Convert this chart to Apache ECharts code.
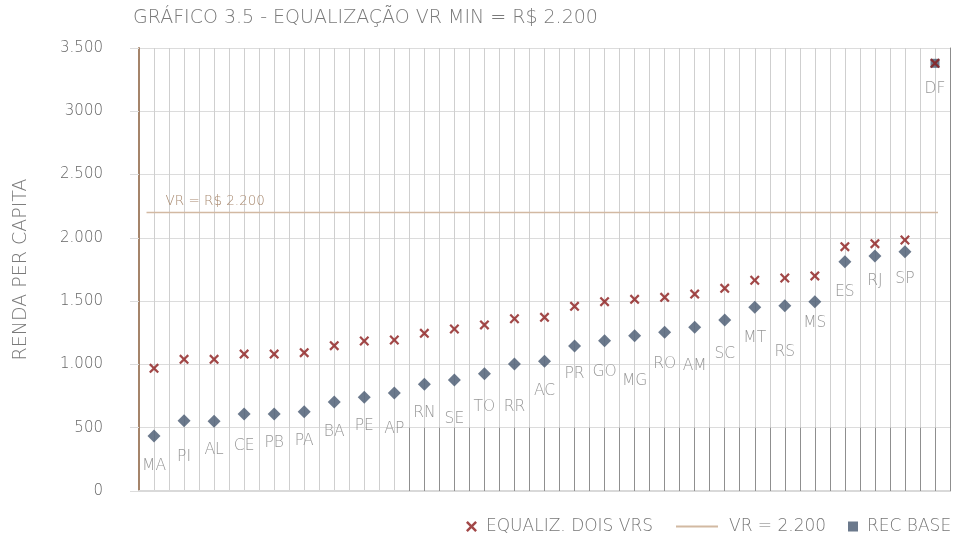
<!DOCTYPE html>
<html>
<head>
<meta charset="utf-8">
<script src="https://cdn.jsdelivr.net/npm/echarts@6/dist/echarts.min.js"></script>
<style>
  html, body { margin: 0; padding: 0; background: #fff; }
  #chart { width: 958px; height: 536px; }
</style>
</head>
<body>
<div id="chart"></div>
<script>
const states = ['MA', 'PI', 'AL', 'CE', 'PB', 'PA', 'BA', 'PE', 'AP', 'RN', 'SE', 'TO', 'RR', 'AC',
  'PR', 'GO', 'MG', 'RO', 'AM', 'SC', 'MT', 'RS', 'MS', 'ES', 'RJ', 'SP', 'DF'];

const recBase = [434, 555, 551, 608, 608, 627, 703, 740, 774, 843, 877, 927, 1003, 1025,
  1146, 1188, 1227, 1254, 1293, 1351, 1451, 1464, 1496, 1812, 1857, 1891, 3379];

const equalizDoisVrs = [969, 1040, 1040, 1082, 1082, 1093, 1148, 1185, 1193, 1246, 1280, 1312, 1361, 1372,
  1459, 1496, 1514, 1530, 1556, 1601, 1665, 1683, 1699, 1930, 1954, 1983, 3379];

const vrValue = 2200;

const yTickLabels = { 0: '0', 500: '500', 1000: '1.000', 1500: '1.500', 2000: '2.000',
  2500: '2.500', 3000: '3000', 3500: '3.500' };

// how far (px) each state label sits under its marker, as in the original
const labelDrop = [30, 37, 29, 32, 29, 30, 30, 29, 36, 29, 39, 34, 43, 30,
  29, 32, 46, 32, 39, 34, 31, 47, 22, 31, 26, 28, 28];

const FONT = 'DejaVu Sans';
const textGray = '#777777';
const crossPath = 'path://M0,1.6L1.6,0L5,3.4L8.4,0L10,1.6L6.6,5L10,8.4L8.4,10L5,6.6L1.6,10L0,8.4L3.4,5Z';

const chart = echarts.init(document.getElementById('chart'));

// darker vertical lines below 500 on the right half
const darkLines = [];
for (let i = 8; i < states.length; i++) {
  [i + 1.5, i + 1].forEach(x => {
    if (x > 9) darkLines.push([{ coord: [x, 0] }, { coord: [x, 500] }]);
  });
}

chart.setOption({
  animation: false,
  textStyle: { fontFamily: FONT, fontWeight: 300 },
  title: {
    text: 'GRÁFICO 3.5 - EQUALIZAÇÃO VR MIN = R$ 2.200',
    left: 133,
    top: 9,
    padding: 0,
    textStyle: { fontFamily: FONT, fontWeight: 300, fontSize: 19, color: '#7a7a7a' },
  },
  legend: [
    {
      data: [{ name: 'EQUALIZ. DOIS VRS', icon: crossPath }],
      left: 461,
      top: 513,
      itemWidth: 11,
      itemHeight: 11,
      textStyle: { fontFamily: FONT, fontSize: 17, color: textGray, padding: [0, 0, 0, 4] },
    },
    {
      data: [{ name: 'VR = 2.200', icon: 'path://M0,0H42V2H0Z' }],
      left: 671,
      top: 513,
      itemWidth: 42,
      itemHeight: 2,
      textStyle: { fontFamily: FONT, fontSize: 17, color: textGray, padding: [0, 0, 0, 6] },
    },
    {
      data: [{ name: 'REC BASE', icon: 'rect' }],
      left: 843,
      top: 513,
      itemWidth: 10,
      itemHeight: 10,
      textStyle: { fontFamily: FONT, fontSize: 17, color: textGray, padding: [0, 0, 0, 4] },
    },
  ],
  grid: { left: 139, right: 8, top: 48, bottom: 45, containLabel: false },
  xAxis: {
    type: 'value',
    min: 0.5,
    max: 27.5,
    interval: 0.5,
    axisLine: { show: true, onZero: false, lineStyle: { color: '#d9d9d9', width: 2 } },
    axisTick: { show: false },
    axisLabel: { show: false },
    splitLine: { show: true, lineStyle: { color: '#cfcfcf', width: 1 } },
  },
  yAxis: [
    {
      type: 'value',
      min: 0,
      max: 3500,
      interval: 500,
      name: 'RENDA PER CAPITA',
      nameLocation: 'middle',
      nameRotate: 90,
      nameGap: 108,
      nameTextStyle: { fontFamily: FONT, fontSize: 19, color: '#7a7a7a' },
      axisLine: { show: true, lineStyle: { color: '#a5846a', width: 2 } },
      axisTick: { show: true, length: 9, lineStyle: { color: '#dcdcdc' } },
      axisLabel: {
        margin: 36,
        fontSize: 15,
        color: '#666666',
        formatter: v => yTickLabels[v],
      },
      splitLine: { show: true, lineStyle: { color: '#dcdcdc', width: 1 } },
    },
    {
      type: 'value',
      min: 0,
      max: 3500,
      interval: 500,
      position: 'right',
      axisLine: { show: true, lineStyle: { color: '#8c8c8c', width: 1 } },
      axisTick: { show: false },
      axisLabel: { show: false },
      splitLine: { show: false },
    },
  ],
  series: [
    {
      name: 'VR = 2.200',
      type: 'line',
      data: [
        {
          value: [0.75, vrValue],
          label: {
            show: true,
            formatter: 'VR = R$ 2.200',
            position: [19, -18],
            fontFamily: FONT,
            fontSize: 13.5,
            color: '#a98a70',
          },
        },
        [27.1, vrValue],
      ],
      symbol: 'circle',
      symbolSize: 0,
      lineStyle: { color: '#d2b9a2', width: 1.5 },
      itemStyle: { color: '#d2b9a2' },
      silent: true,
      markLine: {
        silent: true,
        symbol: 'none',
        label: { show: false },
        lineStyle: { color: '#8f8f8f', width: 1, type: 'solid' },
        data: darkLines,
      },
      z: 1,
    },
    {
      name: 'REC BASE',
      type: 'scatter',
      data: states.map((s, i) => ({
        value: [i + 1, recBase[i]],
        symbol: s === 'DF' ? 'rect' : 'diamond',
        symbolSize: s === 'DF' ? 9 : 13,
        label: { distance: labelDrop[i] - 15 },
      })),
      itemStyle: { color: '#46576f' },
      label: {
        show: true,
        position: 'bottom',
        formatter: p => states[p.dataIndex],
        fontFamily: FONT,
        fontSize: 15.5,
        color: '#7c7c7c',
      },
      z: 3,
    },
    {
      name: 'EQUALIZ. DOIS VRS',
      type: 'scatter',
      symbol: crossPath,
      symbolSize: 10,
      data: states.map((s, i) => [i + 1, equalizDoisVrs[i]]),
      itemStyle: { color: '#8b1a1a' },
      z: 4,
    },
  ],
});
</script>
</body>
</html>
